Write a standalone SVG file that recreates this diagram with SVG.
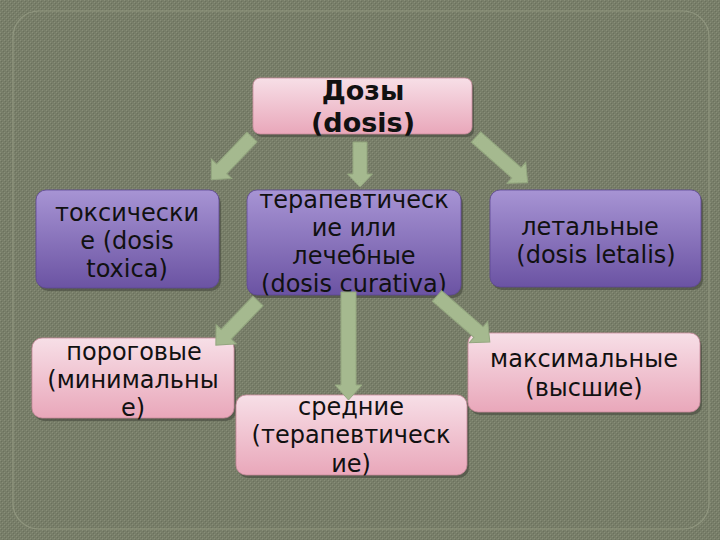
<svg xmlns="http://www.w3.org/2000/svg" width="720" height="540" viewBox="0 0 720 540">
<defs>
<pattern id="tex" width="4" height="4" patternUnits="userSpaceOnUse">
<rect width="4" height="4" fill="#787e69"/>
<rect x="0" y="0" width="1" height="1" fill="#888e78"/>
<rect x="2" y="2" width="1" height="1" fill="#888e78"/>
<rect x="1" y="1" width="1" height="1" fill="#6b715d"/>
<rect x="3" y="3" width="1" height="1" fill="#6b715d"/>
</pattern>
<linearGradient id="pink" x1="0" y1="0" x2="0" y2="1">
<stop offset="0" stop-color="#f7dfe7"/>
<stop offset="1" stop-color="#e9a7ba"/>
</linearGradient>
<linearGradient id="purple" x1="0" y1="0" x2="0" y2="1">
<stop offset="0" stop-color="#a794d4"/>
<stop offset="1" stop-color="#6b53a3"/>
</linearGradient>
<style>
.sh{fill:#4c5043;opacity:0.7}
.pk{fill:url(#pink);stroke:#c98a9c;stroke-width:0.8}
.pu{fill:url(#purple);stroke:#5e4894;stroke-width:0.8}
.t{font-family:"DejaVu Sans",Verdana,sans-serif;font-size:24px;fill:#111;text-anchor:middle}
.b{font-family:"DejaVu Sans",Verdana,sans-serif;font-size:27px;font-weight:bold;fill:#111;text-anchor:middle}
.ar{fill:#a5b98f;stroke:#93a67f;stroke-width:1}
</style>
</defs>
<rect width="720" height="540" fill="url(#tex)"/>
<rect x="13" y="11" width="696" height="518" rx="26" fill="none" stroke="#90967f" stroke-width="1.2"/>

<g id="n-dozy">
<rect class="sh" x="255" y="81" width="219" height="56" rx="7"/>
<rect class="pk" x="253" y="78" width="219" height="56" rx="7"/>
<text class="b" x="363" y="100">Дозы</text>
<text class="b" x="363" y="132">(dosis)</text>
</g>

<g id="n-toxic">
<rect class="sh" x="38" y="193" width="183" height="98" rx="10"/>
<rect class="pu" x="36" y="190" width="183" height="98" rx="10"/>
<text class="t" x="127" y="221">токсически</text>
<text class="t" x="127" y="249">е (dosis</text>
<text class="t" x="127" y="277">toxica)</text>
</g>

<g id="n-therap">
<rect class="sh" x="249" y="193" width="214" height="105" rx="10"/>
<rect class="pu" x="247" y="190" width="214" height="105" rx="10"/>
<text class="t" x="354" y="208">терапевтическ</text>
<text class="t" x="354" y="236">ие или</text>
<text class="t" x="354" y="264">лечебные</text>
<text class="t" x="354" y="292">(dosis curativa)</text>
</g>

<g id="n-lethal">
<rect class="sh" x="492" y="193" width="211" height="97" rx="10"/>
<rect class="pu" x="490" y="190" width="211" height="97" rx="10"/>
<text class="t" x="590" y="235">летальные</text>
<text class="t" x="596" y="263">(dosis letalis)</text>
</g>

<g id="n-porog">
<rect class="sh" x="34" y="341" width="202" height="80" rx="10"/>
<rect class="pk" x="32" y="338" width="202" height="80" rx="10"/>
<text class="t" x="134" y="360">пороговые</text>
<text class="t" x="133" y="388">(минимальны</text>
<text class="t" x="133" y="416">е)</text>
</g>

<g id="n-sred">
<rect class="sh" x="238" y="398" width="231" height="80" rx="10"/>
<rect class="pk" x="236" y="395" width="231" height="80" rx="10"/>
<text class="t" x="351" y="415">средние</text>
<text class="t" x="351" y="443">(терапевтическ</text>
<text class="t" x="351" y="472">ие)</text>
</g>

<g id="n-max">
<rect class="sh" x="470" y="336" width="232" height="79" rx="10"/>
<rect class="pk" x="468" y="333" width="232" height="79" rx="10"/>
<text class="t" x="584" y="367">максимальные</text>
<text class="t" x="584" y="396">(высшие)</text>
</g>

<g id="connectors">
<path class="ar" transform="translate(252,137) rotate(133.6)" d="M0,-7 L44,-7 L44,-14 L59,0 L44,14 L44,7 L0,7 Z"/>
<path class="ar" transform="translate(360,142) rotate(90)" d="M0,-7 L32,-7 L32,-12.5 L45,0 L32,12.5 L32,7 L0,7 Z"/>
<path class="ar" transform="translate(476,137) rotate(41.5)" d="M0,-7 L54,-7 L54,-14 L69,0 L54,14 L54,7 L0,7 Z"/>
<path class="ar" transform="translate(258,301) rotate(133.7)" d="M0,-7 L46,-7 L46,-14 L61,0 L46,14 L46,7 L0,7 Z"/>
<path class="ar" transform="translate(348.5,292) rotate(90)" d="M0,-7.5 L93,-7.5 L93,-13.5 L108,0 L93,13.5 L93,7.5 L0,7.5 Z"/>
<path class="ar" transform="translate(437,296) rotate(41)" d="M0,-7 L55,-7 L55,-14 L70,0 L55,14 L55,7 L0,7 Z"/>
</g>
</svg>
